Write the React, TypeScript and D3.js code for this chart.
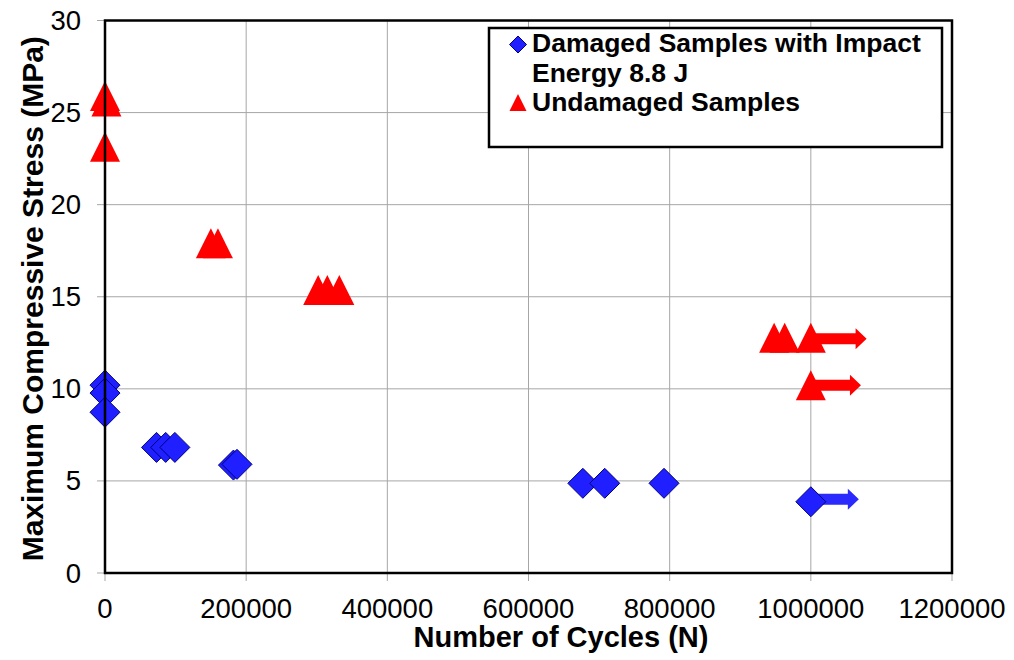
import React from "react";
import * as d3 from "d3";

// damaged samples (impact energy 8.8 J)
const damagedCycles = [0, 0, 0, 73000, 86000, 99000, 182000, 187000, 677000, 708000, 792000, 1000000];
const damagedStress = [10.2, 9.77, 8.73, 6.82, 6.82, 6.82, 5.86, 5.9, 4.87, 4.87, 4.87, 3.87];

// undamaged samples
const undamagedCycles = [0, 2000, 0, 150000, 160000, 302000, 315000, 332000, 948000, 963000, 1000000, 1000000];
const undamagedStress = [25.9, 25.6, 23.15, 17.9, 17.9, 15.36, 15.36, 15.36, 12.78, 12.78, 12.78, 10.2];

// run-outs (arrows)
const arrowFrom = [1000000, 1000000, 1000000];
const arrowTo = [1079000, 1071000, 1068000];
const arrowStress = [12.72, 10.2, 4.0];
const arrowSeries = ["undamaged", "undamaged", "damaged"];

const xTicks = [0, 200000, 400000, 600000, 800000, 1000000, 1200000];
const yTicks = [0, 5, 10, 15, 20, 25, 30];

const W = 1014;
const H = 660;
const left = 105;
const right = 952;
const top = 20.5;
const bottom = 573;

const BLUE = "#1f1fff";
const NAVY = "#000080";
const RED = "#ff0000";
const GRID = "#a6a6a6";
const FONT = "'Liberation Sans', Arial, sans-serif";

const App = () => {
  const x = d3.scaleLinear().domain([0, 1200000]).range([left, right]);
  const y = d3.scaleLinear().domain([0, 30]).range([bottom, top]);

  const diamond = (cx: number, cy: number, r: number) =>
    `M${cx},${cy - r}L${cx + r},${cy}L${cx},${cy + r}L${cx - r},${cy}Z`;
  const triangle = (cx: number, cy: number, r: number) =>
    `M${cx},${cy - r}L${cx + r},${cy + r}L${cx - r},${cy + r}Z`;
  const arrow = (x0: number, x1: number, cy: number) => {
    const s = 5.5, hh = 10.5, hl = 11;
    return `M${x0},${cy - s}L${x1 - hl},${cy - s}L${x1 - hl},${cy - hh}L${x1},${cy}L${x1 - hl},${cy + hh}L${x1 - hl},${cy + s}L${x0},${cy + s}Z`;
  };

  return (
    <svg width={W} height={H} style={{ position: "absolute", left: 0, top: 0, background: "#fff" }} fontFamily={FONT}>
      {/* grid */}
      {xTicks.map((t) => (
        <line key={"gx" + t} x1={x(t)} x2={x(t)} y1={top} y2={bottom + 8} stroke={GRID} strokeWidth={1} />
      ))}
      {yTicks.map((t) => (
        <line key={"gy" + t} x1={left - 8} x2={right} y1={y(t)} y2={y(t)} stroke={GRID} strokeWidth={1} />
      ))}

      {/* tick labels */}
      {xTicks.map((t) => (
        <text key={"tx" + t} x={x(t)} y={618} textAnchor="middle" fontSize={27.5} fill="#000">
          {t}
        </text>
      ))}
      {yTicks.map((t) => (
        <text key={"ty" + t} x={81} y={y(t) + 9.5} textAnchor="end" fontSize={27.5} fill="#000">
          {t}
        </text>
      ))}

      {/* axis titles */}
      <text x={561} y={647} textAnchor="middle" fontSize={29} fontWeight="bold">
        Number of Cycles (N)
      </text>
      <text
        transform={`translate(43,${(top + bottom) / 2 + 2}) rotate(-90)`}
        textAnchor="middle"
        fontSize={30}
        fontWeight="bold"
      >
        Maximum Compressive Stress (MPa)
      </text>

      {/* run-out arrows */}
      {arrowFrom.map((f, i) => (
        <path
          key={"ar" + i}
          d={arrow(x(f), x(arrowTo[i]), y(arrowStress[i]))}
          fill={arrowSeries[i] === "damaged" ? "#2a2aff" : RED}
        />
      ))}

      {/* undamaged */}
      {undamagedCycles.map((c, i) => (
        <path key={"u" + i} d={triangle(x(c), y(undamagedStress[i]), 15)} fill={RED} />
      ))}

      {/* damaged */}
      {damagedCycles.map((c, i) => (
        <path
          key={"d" + i}
          d={diamond(x(c), y(damagedStress[i]), 15)}
          fill={BLUE}
          stroke={NAVY}
          strokeWidth={1}
        />
      ))}

      {/* frame */}
      <rect x={left} y={top} width={right - left} height={bottom - top} fill="none" stroke="#000" strokeWidth={2.5} />

      {/* legend */}
      <rect x={489} y={28} width={453} height={119} fill="#fff" stroke="#000" strokeWidth={2.5} />
      <path d={diamond(518, 44.5, 8.5)} fill={BLUE} stroke={NAVY} strokeWidth={1} />
      <text x={532} y={52} fontSize={26.5} fontWeight="bold">Damaged Samples with Impact</text>
      <text x={532} y={82} fontSize={26.5} fontWeight="bold">Energy 8.8 J</text>
      <path d={triangle(518, 102.5, 8.5)} fill={RED} />
      <text x={532} y={111} fontSize={26.5} fontWeight="bold">Undamaged Samples</text>
    </svg>
  );
};

export default App;
